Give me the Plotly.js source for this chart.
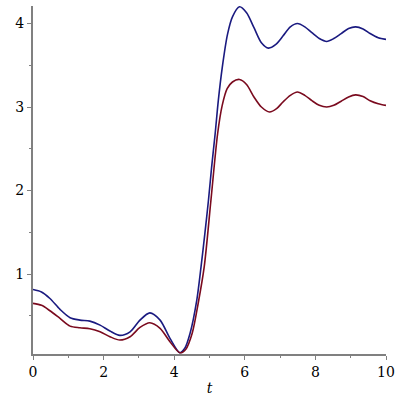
<!DOCTYPE html>
<html>
<head>
<meta charset="utf-8">
<script src="https://cdn.plot.ly/plotly-3.0.1.min.js"></script>
<style>html,body{margin:0;padding:0;background:#fff;}#chart{width:400px;height:400px;}</style>
</head>
<body>
<div id="chart"></div>
<script>
// Blue (upper) curve
const tBlue = [0, 0.24, 0.48, 0.765, 1.05, 1.33, 1.61, 1.9, 2.18, 2.46, 2.75, 3.03, 3.31, 3.6, 3.88, 4.16, 4.3, 4.45, 4.64, 4.76, 4.87, 4.97, 5.06, 5.16, 5.25, 5.36, 5.51, 5.65, 5.85, 6.05, 6.26, 6.47, 6.67, 6.88, 7.08, 7.29, 7.49, 7.7, 7.9, 8.11, 8.32, 8.52, 8.73, 8.94, 9.14, 9.35, 9.55, 9.78, 10];
const yBlue = [0.815, 0.785, 0.707, 0.576, 0.476, 0.448, 0.436, 0.388, 0.317, 0.265, 0.308, 0.448, 0.535, 0.448, 0.23, 0.057, 0.11, 0.29, 0.687, 1.085, 1.49, 1.88, 2.28, 2.68, 3.08, 3.47, 3.87, 4.08, 4.2, 4.13, 3.95, 3.77, 3.706, 3.75, 3.85, 3.96, 4.0, 3.96, 3.89, 3.82, 3.785, 3.82, 3.88, 3.94, 3.96, 3.935, 3.88, 3.83, 3.81];
// Red (lower) curve
const tRed = [0, 0.24, 0.48, 0.765, 1.05, 1.33, 1.61, 1.9, 2.18, 2.46, 2.75, 3.03, 3.31, 3.6, 3.88, 4.16, 4.33, 4.51, 4.68, 4.85, 5.04, 5.23, 5.36, 5.5, 5.65, 5.85, 6.05, 6.26, 6.47, 6.7, 6.9, 7.08, 7.29, 7.49, 7.7, 7.9, 8.11, 8.32, 8.52, 8.73, 8.94, 9.14, 9.35, 9.55, 9.78, 10];
const yRed = [0.648, 0.625, 0.56, 0.468, 0.376, 0.356, 0.344, 0.308, 0.249, 0.209, 0.249, 0.36, 0.416, 0.349, 0.189, 0.057, 0.1, 0.29, 0.65, 1.085, 1.88, 2.68, 3.02, 3.22, 3.3, 3.33, 3.27, 3.12, 3.0, 2.94, 2.98, 3.06, 3.14, 3.18, 3.14, 3.076, 3.02, 3.0, 3.02, 3.07, 3.12, 3.145, 3.125, 3.076, 3.04, 3.02];
const xTicks = [0, 2, 4, 6, 8, 10];
const yTicks = [1, 2, 3, 4];
const xTitle = 't';

const serif = 'DejaVu Serif';
const traces = [
  {x: tBlue, y: yBlue, mode: 'lines', line: {color: '#1a1a80', width: 1.6, shape: 'spline', smoothing: 0.8}, hoverinfo: 'skip'},
  {x: tRed, y: yRed, mode: 'lines', line: {color: '#7a0a1e', width: 1.6, shape: 'spline', smoothing: 0.8}, hoverinfo: 'skip'}
];
const axisCommon = {
  showgrid: false, zeroline: false, showline: true, linecolor: '#808080', linewidth: 2,
  ticks: 'outside', ticklen: 4, tickwidth: 1, tickcolor: '#808080',
  tickfont: {family: serif, size: 14, color: '#000'},
  minor: {ticks: 'outside', ticklen: 2, tickcolor: '#808080', tickwidth: 1}
};
const layout = {
  width: 400, height: 400,
  font: {family: serif, size: 14, color: '#000'},
  margin: {l: 33, r: 14, t: 6, b: 46},
  paper_bgcolor: '#fff', plot_bgcolor: '#fff',
  showlegend: false,
  xaxis: Object.assign({}, axisCommon, {
    range: [0, 10], tickvals: xTicks, ticktext: xTicks.map(String),
    minor: Object.assign({}, axisCommon.minor, {dtick: 1, tick0: 0}),
    title: {text: xTitle, font: {family: serif, size: 14, color: '#000', style: 'italic'}, standoff: 4}
  }),
  yaxis: Object.assign({}, axisCommon, {
    range: [0.042, 4.21], tickvals: yTicks, ticktext: yTicks.map(String),
    minor: Object.assign({}, axisCommon.minor, {dtick: 0.5, tick0: 0})
  })
};
Plotly.newPlot('chart', traces, layout, {staticPlot: true, displayModeBar: false});
</script>
</body>
</html>
